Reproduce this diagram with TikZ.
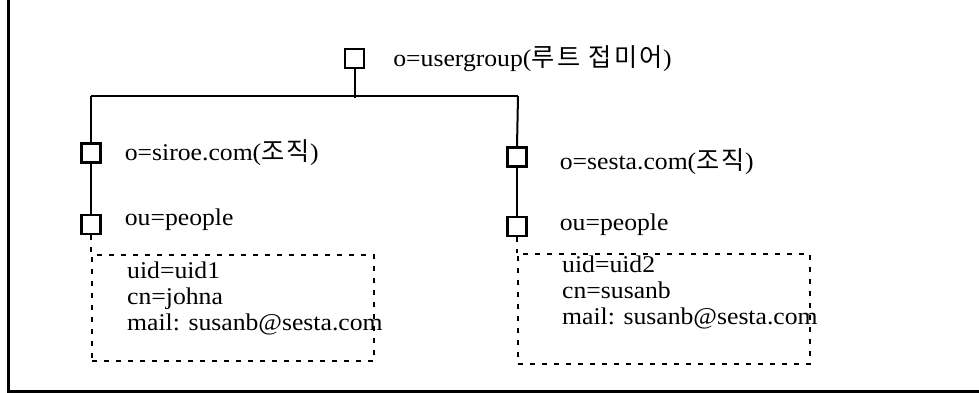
\documentclass[tikz,border=0pt]{standalone}
\usepackage{fontspec}
\setmainfont{Liberation Serif}[FakeStretch=1.07]
\newfontfamily\krfont{Noto Sans CJK KR}[Scale=1.05, LetterSpace=10]
\usetikzlibrary{positioning}

\begin{document}
\begin{tikzpicture}[x=1pt, y=-1pt,
  entry/.style={draw, line width=2.3pt, minimum size=19pt, inner sep=0pt},
  lbl/.style={inner sep=0pt, anchor=west, font=\fontsize{24}{26}\selectfont},
  attrs/.style={inner sep=0pt, align=left, font=\fontsize{24}{26}\selectfont},
  dashbox/.style={draw, line width=2pt, dash pattern=on 5pt off 7pt},
  link/.style={line width=2pt},
]
\useasboundingbox (0,0) rectangle (979,393);
\draw[line width=3pt] (8,0) -- (8,391) -- (979,391);

\node[entry] (root) at (354.5,58.5) {};
\node[lbl, right=28pt of root] (rootlbl) {o=usergroup({\krfont 루트 접미어})};

\coordinate (busL) at (91,96);
\coordinate (busR) at (518,96);

\node[entry] (siroe) at (91,153) {};
\node[entry, below=50pt of siroe] (ppl1) {};
\node[lbl, right=23pt of siroe] (siroelbl) {o=siroe.com({\krfont 조직})};
\node[lbl, right=23pt of ppl1, yshift=5pt] (ppl1lbl) {ou=people};

\node[entry] (sesta) at (517,157) {};
\node[entry, below=48pt of sesta] (ppl2) {};
\node[lbl, right=32pt of sesta, yshift=-5pt] (sestalbl) {o=sesta.com({\krfont 조직})};
\node[lbl, right=32pt of ppl2, yshift=2pt] (ppl2lbl) {ou=people};

\node[dashbox, minimum width=282pt, minimum height=106pt, anchor=north west] (dir1) at (91,254) {};
\node[attrs, below right=8pt and 36pt of dir1.north west] (attr1) {uid=uid1\\cn=johna\\mail: susanb@sesta.com};

\node[dashbox, minimum width=292pt, minimum height=110pt, anchor=north west] (dir2) at (517,253) {};
\node[attrs, below right=3pt and 45pt of dir2.north west] (attr2) {uid=uid2\\cn=susanb\\mail: susanb@sesta.com};

\draw[link] (busL) -- (busR);
\draw[link] (root.south) -- ([yshift=-2pt]root |- busL);
\draw[link] (busL) -- (siroe.north);
\draw[link] (siroe) -- (ppl1);
\draw[link] (busR) -- (sesta.north);
\draw[link] (sesta) -- (ppl2);
\draw[dashbox] (ppl1.south) -- (dir1.north west);
\draw[dashbox] (ppl2.south) -- (dir2.north west);
\end{tikzpicture}
\end{document}
